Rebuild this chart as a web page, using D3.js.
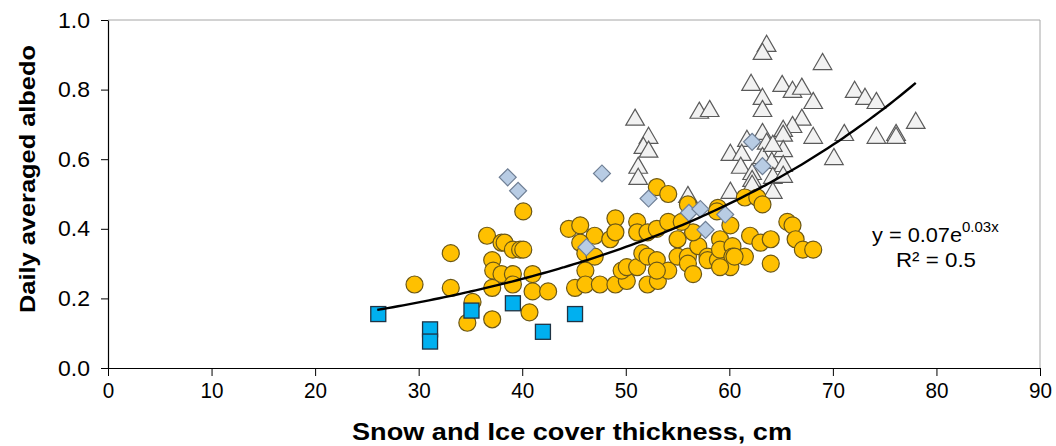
<!DOCTYPE html>
<html>
<head>
<meta charset="utf-8">
<script src="https://cdn.jsdelivr.net/npm/d3@7"></script>
<style>
  html, body { margin: 0; padding: 0; background: #fff; }
  svg { display: block; }
  text { font-family: "Liberation Sans", Arial, sans-serif; }
</style>
</head>
<body>
<svg id="chart" width="1056" height="446"></svg>
<script>
// ---------------- data ----------------
const xTicks = [0, 10, 20, 30, 40, 50, 60, 70, 80, 90];
const yTicks = [0.0, 0.2, 0.4, 0.6, 0.8, 1.0];

// squares (blue)
const squareX = [26.1, 31.1, 31.1, 35.1, 39.1, 42.0, 45.1];
const squareY = [0.155, 0.111, 0.076, 0.165, 0.186, 0.104, 0.155];

// diamonds (light blue-grey)
const diamondX = [38.6, 39.6, 47.7, 46.2, 52.2, 56.1, 57.2, 57.7, 59.6, 62.2, 63.2];
const diamondY = [0.548, 0.509, 0.559, 0.347, 0.487, 0.446, 0.457, 0.397, 0.441, 0.650, 0.580];

// triangles (light grey)
const triangleX = [50.9, 52.2, 51.7, 52.2, 51.2, 51.2, 57.1, 58.1, 62.1, 63.2, 63.2, 63.6, 63.2,
  65.1, 66.1, 67.0, 68.1, 69.0, 72.1, 73.1, 74.2, 78.0, 76.1, 76.1, 74.2, 71.1, 70.1, 68.1,
  67.0, 66.1, 65.2, 65.2, 63.2, 63.6, 61.7, 60.1, 61.2, 61.1, 62.2, 62.2, 62.2, 63.2, 64.1,
  65.2, 65.2, 64.2, 65.2, 64.2, 60.1, 56.0, 64.2];
const triangleY = [0.716, 0.664, 0.635, 0.624, 0.578, 0.546, 0.736, 0.741, 0.816, 0.776, 0.741, 0.928, 0.905,
  0.813, 0.796, 0.805, 0.764, 0.876, 0.796, 0.776, 0.764, 0.707, 0.672, 0.664, 0.664, 0.672, 0.603, 0.664,
  0.716, 0.695, 0.684, 0.670, 0.675, 0.647, 0.655, 0.615, 0.615, 0.578, 0.560, 0.540, 0.526, 0.606, 0.592,
  0.626, 0.583, 0.549, 0.552, 0.506, 0.506, 0.494, 0.641];

// circles (gold)
const circleX = [29.6, 33.1, 33.1, 35.2, 34.7, 37.1, 36.6, 38.0, 38.3, 39.1, 39.8, 40.1, 37.1, 37.2,
  38.0, 39.1, 39.1, 37.1, 41.0, 41.0, 42.5, 40.7, 40.1, 44.5, 45.6, 47.0, 48.5, 49.0, 49.0, 45.6,
  46.1, 47.0, 46.1, 45.1, 46.1, 47.5, 49.0, 50.1, 49.6, 50.1, 51.1, 51.1, 51.1, 52.1, 53.0, 54.1,
  53.0, 54.1, 51.6, 52.1, 53.0, 52.1, 53.1, 54.1, 53.0, 55.0, 55.0, 56.0, 56.0, 56.5, 57.0, 56.5,
  55.4, 56.0, 58.9, 58.8, 60.1, 59.1, 57.9, 57.9, 58.9, 59.1, 60.3, 60.3, 60.1, 59.1, 61.5, 62.7,
  63.2, 65.6, 66.1, 62.0, 63.0, 64.0, 66.4, 67.1, 68.1, 61.5, 60.5, 64.0];
const circleY = [0.24, 0.33, 0.23, 0.19, 0.13, 0.14, 0.38, 0.36, 0.36, 0.34, 0.34, 0.34, 0.31, 0.28,
  0.27, 0.27, 0.24, 0.23, 0.27, 0.22, 0.22, 0.16, 0.45, 0.40, 0.41, 0.38, 0.37, 0.43, 0.39, 0.36,
  0.33, 0.32, 0.28, 0.23, 0.24, 0.24, 0.24, 0.25, 0.28, 0.29, 0.29, 0.42, 0.39, 0.39, 0.40, 0.42,
  0.52, 0.50, 0.33, 0.32, 0.31, 0.24, 0.25, 0.28, 0.28, 0.37, 0.32, 0.32, 0.30, 0.27, 0.35, 0.39,
  0.42, 0.47, 0.46, 0.45, 0.41, 0.37, 0.32, 0.31, 0.31, 0.34, 0.35, 0.32, 0.29, 0.29, 0.49, 0.49,
  0.47, 0.42, 0.41, 0.38, 0.36, 0.37, 0.37, 0.34, 0.34, 0.32, 0.32, 0.30];

// exponential trend line y = a * e^(b x)
const trendA = 0.0753;
const trendB = 0.0306;
const trendRange = [26, 78];
const equationText = ["y = 0.07e", "0.03x"];
const r2Text = "R² = 0.5";

const xLabel = "Snow and Ice cover thickness, cm";
const yLabel = "Daily averaged albedo";

// ---------------- drawing ----------------
const svg = d3.select("#chart");
const L = 108, R = 1040, T = 20, B = 368;

const x = d3.scaleLinear().domain([0, 90]).range([L, R]);
const y = d3.scaleLinear().domain([0, 1]).range([B, T]);

// frame (top / right in grey)
svg.append("path")
  .attr("d", `M${L},${T}H${R}V${B}`)
  .attr("fill", "none").attr("stroke", "#a6a6a6").attr("stroke-width", 1);

// x axis
const xAxis = svg.append("g").attr("transform", `translate(0,${B})`)
  .call(d3.axisBottom(x).tickValues(xTicks).tickFormat(d3.format("d")).tickSizeInner(8).tickSizeOuter(0).tickPadding(6));
xAxis.select(".domain").attr("stroke", "#000").attr("stroke-width", 1.2);
xAxis.selectAll(".tick line").attr("stroke", "#000");
xAxis.selectAll(".tick text").attr("font-size", 22).attr("fill", "#000")
  .attr("textLength", function(d) { return String(d).length * 11.5; })
  .attr("lengthAdjust", "spacingAndGlyphs");

// y axis
const yAxis = svg.append("g").attr("transform", `translate(${L},0)`)
  .call(d3.axisLeft(y).tickValues(yTicks).tickFormat(d3.format(".1f")).tickSizeInner(7).tickSizeOuter(0).tickPadding(11));
yAxis.select(".domain").attr("stroke", "#000").attr("stroke-width", 1.2);
yAxis.selectAll(".tick line").attr("stroke", "#000");
yAxis.selectAll(".tick text").attr("font-size", 22).attr("fill", "#000")
  .attr("textLength", 32).attr("lengthAdjust", "spacingAndGlyphs");

// axis titles
svg.append("text")
  .attr("x", (L + R) / 2 - 2).attr("y", 440)
  .attr("text-anchor", "middle")
  .attr("font-size", 23).attr("font-weight", "bold")
  .attr("textLength", 440).attr("lengthAdjust", "spacingAndGlyphs")
  .text(xLabel);

svg.append("text")
  .attr("transform", `translate(35,179) rotate(-90)`)
  .attr("text-anchor", "middle")
  .attr("font-size", 22).attr("font-weight", "bold")
  .attr("textLength", 268).attr("lengthAdjust", "spacingAndGlyphs")
  .text(yLabel);

// series drawing
const plot = svg.append("g");

// triangles
const triData = triangleX.map((d, i) => [d, triangleY[i]]);
const triSym = d3.symbol().type(d3.symbolTriangle).size(150);
plot.append("g").selectAll("path").data(triData).join("path")
  .attr("transform", d => `translate(${x(d[0])},${y(d[1]) + 1})`)
  .attr("d", triSym)
  .attr("fill", "#f2f2f2").attr("stroke", "#5a5a5a").attr("stroke-width", 1.2);

// circles
const circData = circleX.map((d, i) => [d, circleY[i]]);
plot.append("g").selectAll("circle").data(circData).join("circle")
  .attr("cx", d => x(d[0])).attr("cy", d => y(d[1])).attr("r", 8.5)
  .attr("fill", "#ffc000").attr("stroke", "#6b5716").attr("stroke-width", 1.2);

// diamonds
const diaData = diamondX.map((d, i) => [d, diamondY[i]]);
plot.append("g").selectAll("rect").data(diaData).join("rect")
  .attr("x", -6).attr("y", -6).attr("width", 12).attr("height", 12)
  .attr("transform", d => `translate(${x(d[0])},${y(d[1])}) rotate(45)`)
  .attr("fill", "#b8cce4").attr("stroke", "#6f7f95").attr("stroke-width", 1.2);

// squares
const sqData = squareX.map((d, i) => [d, squareY[i]]);
plot.append("g").selectAll("rect").data(sqData).join("rect")
  .attr("x", d => x(d[0]) - 7.5).attr("y", d => y(d[1]) - 7.5)
  .attr("width", 15).attr("height", 15)
  .attr("fill", "#00b0f0").attr("stroke", "#1f3344").attr("stroke-width", 1.3);

// trend line
const trendPts = d3.range(trendRange[0], trendRange[1] + 0.001, 0.5).map(v => [v, trendA * Math.exp(trendB * v)]);
plot.append("path")
  .datum(trendPts)
  .attr("d", d3.line().x(d => x(d[0])).y(d => y(d[1])).curve(d3.curveMonotoneX))
  .attr("fill", "none").attr("stroke", "#000").attr("stroke-width", 2.4);

// equation
const eq = svg.append("text").attr("x", 872).attr("y", 242).attr("font-size", 21).attr("fill", "#000");
eq.append("tspan").attr("textLength", 90).attr("lengthAdjust", "spacingAndGlyphs").text(equationText[0]);
eq.append("tspan").attr("dy", -10).attr("font-size", 15).text(equationText[1]);
svg.append("text").attr("x", 936).attr("y", 267).attr("text-anchor", "middle")
  .attr("font-size", 21).attr("fill", "#000")
  .attr("textLength", 80).attr("lengthAdjust", "spacingAndGlyphs").text(r2Text);
</script>
</body>
</html>
